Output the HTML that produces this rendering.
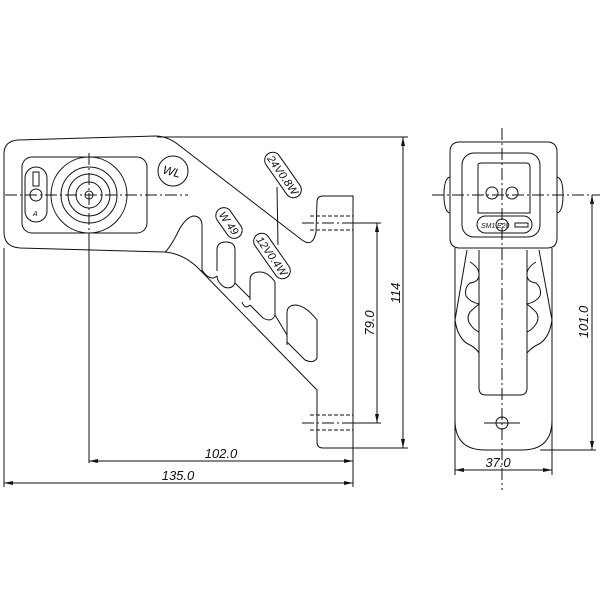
<!DOCTYPE html>
<html><head><meta charset="utf-8"><style>
html,body{margin:0;padding:0;background:#fff;}
svg{display:block;}
text{font-family:"Liberation Sans",sans-serif;font-style:italic;fill:#111;}
</style></head><body>
<svg width="600" height="604" viewBox="0 0 600 604" xmlns="http://www.w3.org/2000/svg">
<g fill="none" stroke="#111" stroke-width="1">
<!-- Side view body -->
<path d="M18,140 L155,136 Q168,136 180,146 L302,240 Q313,248 316,232 L317,202 Q317,196 323,196 L353,196 L353,448 L323,448 Q317,448 317,442 L317,390 L200,270 Q185,254 165,252 L20,248 Q4,247 4,232 L4,154 Q4,141 18,140 Z"/>
<rect x="22" y="157" width="125" height="76" rx="10"/>
<rect x="25" y="167" width="22" height="55" rx="11"/>
<rect x="33" y="172" width="6" height="14"/>
<circle cx="36" cy="195" r="6"/>
<text x="33" y="216" font-size="7" font-style="normal" stroke="none">A</text>
<circle cx="89" cy="195" r="38"/>
<circle cx="89" cy="195" r="28"/>
<circle cx="89" cy="195" r="21"/>
<circle cx="89" cy="195" r="13"/>
<circle cx="89" cy="195" r="4"/>
<!-- logo -->
<ellipse cx="173" cy="171" rx="15" ry="15"/>
<text x="163" y="176" font-size="12" font-style="normal" stroke="none" transform="rotate(15 173 171)">WL</text>
<!-- ribs/slots -->
<path d="M165,252 Q170,248 178,232 Q185,218 193,216 Q202,216 202,226 L202,272"/>
<path d="M217,271 L217,250 Q217,242 226,242 Q235,242 235,250 L235,283 Q232,290 224,287 Q217,282 217,276"/>
<path d="M202,270 Q210,282 217,276"/>
<path d="M235,283 L250,298"/>
<path d="M250,300 L250,280 Q250,272 260,272 Q268,272 275,282 L275,315 Q272,323 263,318 L250,305"/>
<path d="M250,305 Q245,310 242,302"/>
<path d="M287,345 L287,313 Q287,305 296,305 Q306,306 317,320 L317,358 Q314,364 305,360 L287,342"/>
<path d="M275,315 L287,335"/>
<!-- labels -->
<g transform="translate(283,175) rotate(55)"><rect x="-26" y="-8" width="52" height="16" rx="8"/><text x="0" y="4" font-size="11" font-style="normal" text-anchor="middle" stroke="none">24V0.8W</text></g>
<g transform="translate(229,223) rotate(55)"><rect x="-17" y="-8" width="34" height="16" rx="8"/><text x="0" y="4" font-size="11" font-style="normal" text-anchor="middle" stroke="none">W  49</text></g>
<g transform="translate(272,256) rotate(55)"><rect x="-26" y="-8" width="52" height="16" rx="8"/><text x="0" y="4" font-size="11" font-style="normal" text-anchor="middle" stroke="none">12V0.4W</text></g>
<line x1="277" y1="187" x2="278" y2="245"/>
<!-- holes -->
<g stroke-dasharray="4,2"><line x1="310" y1="216" x2="353" y2="216"/><line x1="310" y1="230" x2="353" y2="230"/><line x1="310" y1="415" x2="353" y2="415"/><line x1="310" y1="430" x2="353" y2="430"/></g>
<g stroke-dasharray="12,3,2,3"><line x1="302" y1="223" x2="353" y2="223"/><line x1="302" y1="423" x2="353" y2="423"/>
<line x1="5" y1="195" x2="188" y2="195"/><line x1="89" y1="153" x2="89" y2="240"/>
<line x1="502" y1="128" x2="502" y2="490"/><line x1="432" y1="195" x2="600" y2="195"/></g>
<line x1="89" y1="240" x2="89" y2="463"/>
<!-- dims -->
<line x1="157" y1="137" x2="408" y2="137"/><line x1="353" y1="448" x2="408" y2="448"/>
<line x1="403" y1="137" x2="403" y2="448"/>
<line x1="353" y1="223" x2="381" y2="223"/><line x1="353" y1="423" x2="381" y2="423"/>
<line x1="377" y1="223" x2="377" y2="423"/>
<line x1="89" y1="461" x2="353" y2="461"/>
<line x1="4" y1="248" x2="4" y2="487"/><line x1="353" y1="448" x2="353" y2="487"/>
<line x1="4" y1="483" x2="353" y2="483"/>
<!-- front view -->
<path d="M460,142 L547,142 Q557,142 557,152 L557,238 Q557,248 547,248 L460,248 Q450,248 450,238 L450,152 Q450,142 460,142 Z"/>
<path d="M450,177 Q444,178 444,195 Q444,212 450,213"/>
<path d="M557,177 Q563,178 563,195 Q563,212 557,213"/>
<rect x="462" y="153" width="78" height="84" rx="12"/>
<path d="M478,165 Q478,163 482,163 L526,163 Q530,163 530,167 L530,213 L478,213 Z"/>
<circle cx="492" cy="193" r="6"/><circle cx="512" cy="193" r="6"/>
<rect x="477" y="216" width="55" height="17" rx="8.5"/>
<text x="481" y="228" font-size="7" font-style="normal" stroke="none">SM1</text>
<circle cx="502" cy="225" r="6"/>
<text x="497" y="228" font-size="7" font-style="normal" stroke="none">E20</text>
<rect x="515" y="223" width="13" height="4"/>
<path d="M455,248 L455,475 M552,248 L552,475"/>
<path d="M455,420 Q455,450 485,450 L522,450 Q552,450 552,420"/>
<path d="M479,250 L479,388 Q479,395 486,395 L520,395 Q527,395 527,388 L527,250"/>
<path d="M467,250 L455,320 Q458,340 470,345 Q476,348 479,353"/>
<path d="M539,250 L552,320 Q549,340 537,345 Q531,348 527,353"/>
<path d="M470,262 Q480,268 479,276 Q478,282 470,283 Q464,288 466,296 Q470,302 479,304 Q474,308 470,312 Q466,318 470,324 Q474,330 479,332"/>
<path d="M536,262 Q526,268 527,276 Q528,282 536,283 Q542,288 540,296 Q536,302 527,304 Q532,308 536,312 Q540,318 536,324 Q532,330 527,332"/>
<circle cx="502" cy="423" r="6"/>
<line x1="484" y1="423" x2="520" y2="423"/>
<line x1="540" y1="450" x2="596" y2="450"/>
<line x1="592" y1="195" x2="592" y2="450"/>
<line x1="455" y1="470" x2="552" y2="470"/>
</g>
<g fill="#111">
<path d="M403,137 l-2,9 h4 z M403,448 l-2,-9 h4 z"/>
<path d="M377,223 l-2,9 h4 z M377,423 l-2,-9 h4 z"/>
<path d="M89,461 l9,-2 v4 z M353,461 l-9,-2 v4 z"/>
<path d="M4,483 l9,-2 v4 z M353,483 l-9,-2 v4 z"/>
<path d="M592,195 l-2,9 h4 z M592,450 l-2,-9 h4 z"/>
<path d="M455,470 l9,-2 v4 z M552,470 l-9,-2 v4 z"/>
</g>
<text x="221" y="458" font-size="13" text-anchor="middle">102.0</text>
<text x="178" y="480" font-size="13" text-anchor="middle">135.0</text>
<text x="498" y="467" font-size="13" text-anchor="middle">37.0</text>
<text transform="translate(400,293) rotate(-90)" font-size="13" text-anchor="middle">114</text>
<text transform="translate(374,323) rotate(-90)" font-size="13" text-anchor="middle">79.0</text>
<text transform="translate(588,322) rotate(-90)" font-size="13" text-anchor="middle">101.0</text>
</svg>
</body></html>
